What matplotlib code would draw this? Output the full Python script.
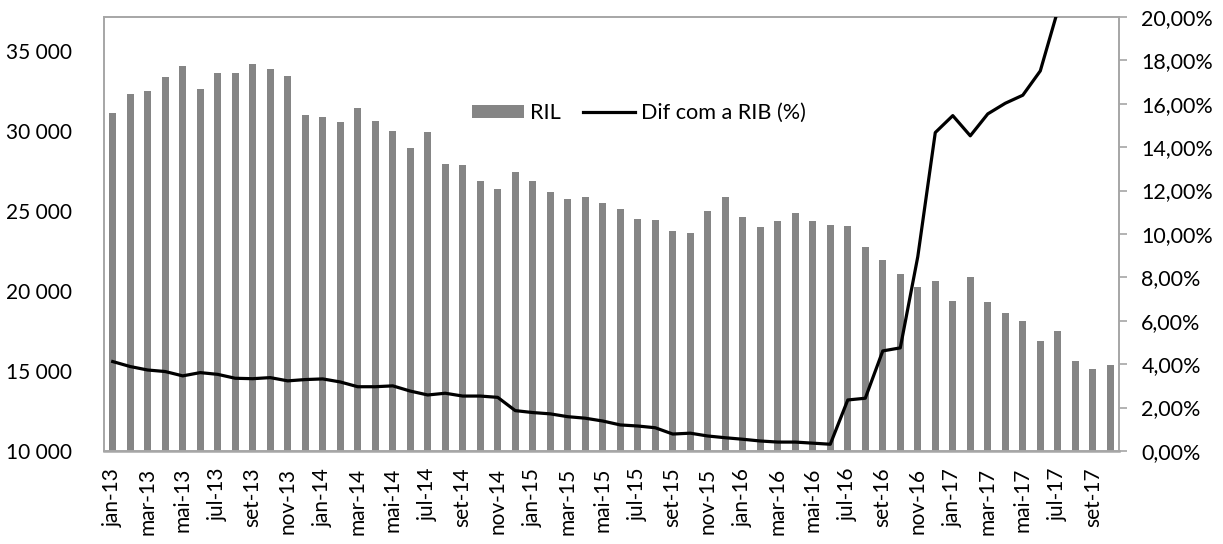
import numpy as np
import matplotlib
matplotlib.use("Agg")
import matplotlib.pyplot as plt
from matplotlib.ticker import FuncFormatter, MultipleLocator

plt.rcParams["font.family"] = ["Lato", "DejaVu Sans"]

# ── data ──────────────────────────────────────────────────────────────────────
MESES = ["jan", "fev", "mar", "abr", "mai", "jun",
         "jul", "ago", "set", "out", "nov", "dez"]
months = [f"{m}-{y}" for y in range(13, 18) for m in MESES][:58]   # jan-13 .. out-17

ril = [31100, 32300, 32500, 33350, 34050, 32600, 33600, 33600, 34150, 33850,
       33400, 31000, 30850, 30550, 31450, 30600, 30000, 28900, 29900, 27950,
       27900, 26900, 26350, 27450, 26900, 26200, 25750, 25900, 25500, 25150,
       24500, 24450, 23750, 23600, 25000, 25900, 24650, 24000, 24400, 24850,
       24400, 24150, 24050, 22750, 21950, 21050, 20250, 20650, 19400, 20900,
       19300, 18650, 18150, 16850, 17500, 15600, 15100, 15400]

dif_rib = [4.12, 3.89, 3.73, 3.66, 3.46, 3.61, 3.53, 3.35, 3.33, 3.38,
           3.23, 3.29, 3.32, 3.18, 2.96, 2.96, 3.00, 2.76, 2.58, 2.66,
           2.53, 2.53, 2.47, 1.86, 1.77, 1.71, 1.58, 1.51, 1.38, 1.20,
           1.15, 1.07, 0.78, 0.82, 0.69, 0.61, 0.54, 0.46, 0.41, 0.41,
           0.36, 0.31, 2.35, 2.43, 4.61, 4.75, 8.95, 14.67, 15.45, 14.52,
           15.53, 16.02, 16.39, 17.51, 20.30, 22.00, 23.50, 25.00]

# ── figure ────────────────────────────────────────────────────────────────────
fig = plt.figure(figsize=(12.23, 5.44), dpi=100)
ax = fig.add_axes([0.085, 0.171, 0.83, 0.798])
ax2 = ax.twinx()

x = np.arange(len(months))
bars = ax.bar(x, ril, width=0.38, color="#858585", label="RIL", zorder=2)
line, = ax2.plot(x, np.array(dif_rib) / 100, color="black", lw=2.3,
                 label="Dif com a RIB (%)", zorder=3)

ax.set_xlim(-0.5, len(months) - 0.5)
ax.set_ylim(10000, 37125)
ax.yaxis.set_major_locator(MultipleLocator(5000))
ax.yaxis.set_major_formatter(FuncFormatter(lambda v, _: f"{int(v):,}".replace(",", " ")))

ax2.set_ylim(0, 0.20)
ax2.yaxis.set_major_locator(MultipleLocator(0.02))
ax2.yaxis.set_major_formatter(FuncFormatter(lambda v, _: f"{v*100:.2f}%".replace(".", ",")))

ax.set_xticks(x[::2])
ax.set_xticklabels(months[::2], rotation=90)

for a in (ax, ax2):
    for s in a.spines.values():
        s.set_color("#a6a6a6")
        s.set_linewidth(1.2)
ax.spines["bottom"].set_linewidth(1.8)

ax.tick_params(axis="x", length=0, labelsize=15, pad=12)
ax.tick_params(axis="y", length=0, labelsize=15, pad=23)
ax2.tick_params(axis="y", length=6, width=1.2, color="#a6a6a6", labelsize=15.5, pad=10)

ax.legend([bars, line], ["RIL", "Dif com a RIB (%)"], loc="center",
          bbox_to_anchor=(0.527, 0.779), ncol=2, frameon=False, fontsize=15.6,
          handlelength=2.4, handleheight=0.55, columnspacing=1.0, handletextpad=0.3,
          borderpad=0)

fig.savefig("out.png", dpi=100, facecolor="white")
